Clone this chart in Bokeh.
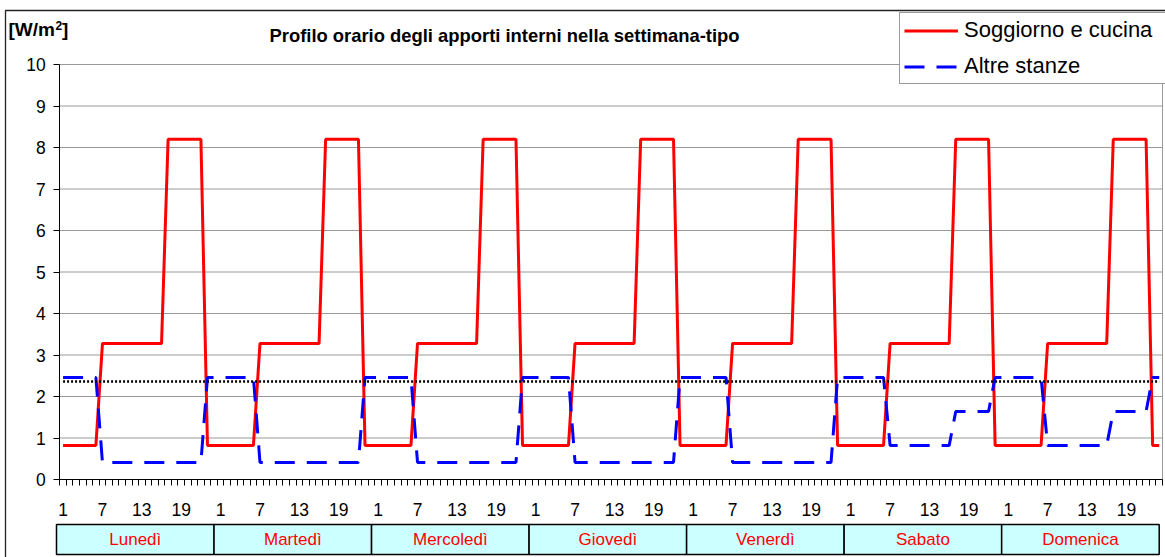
from bokeh.plotting import figure
from bokeh.models import Range1d, FixedTicker, Label, Legend, LegendItem
from bokeh.embed import file_html
from bokeh.resources import INLINE
from bokeh.core.properties import value

# ---------------- data ----------------
days = ["Lunedì", "Martedì", "Mercoledì", "Giovedì", "Venerdì", "Sabato", "Domenica"]
hour_labels = ["1", "7", "13", "19"]
y_ticks = [0, 1, 2, 3, 4, 5, 6, 7, 8, 9, 10]

# hourly values (hour 1..24)
soggiorno_feriale = [0.82, 0.82, 0.82, 0.82, 0.82, 0.82,
                     3.28, 3.28, 3.28, 3.28, 3.28, 3.28, 3.28, 3.28, 3.28, 3.28,
                     8.2, 8.2, 8.2, 8.2, 8.2, 8.2,
                     0.82, 0.82]
altre_feriale = [2.46, 2.46, 2.46, 2.46, 2.46, 2.46,
                 0.41, 0.41, 0.41, 0.41, 0.41, 0.41, 0.41, 0.41, 0.41, 0.41,
                 0.41, 0.41, 0.41, 0.41, 0.41, 0.41,
                 2.46, 2.46]
soggiorno_festivo = [0.82, 0.82, 0.82, 0.82, 0.82, 0.82,
                     3.28, 3.28, 3.28, 3.28, 3.28, 3.28, 3.28, 3.28, 3.28, 3.28,
                     8.2, 8.2, 8.2, 8.2, 8.2, 8.2,
                     0.82, 0.82]
altre_festivo = [2.46, 2.46, 2.46, 2.46, 2.46, 2.46,
                 0.82, 0.82, 0.82, 0.82, 0.82, 0.82, 0.82, 0.82, 0.82, 0.82,
                 1.64, 1.64, 1.64, 1.64, 1.64, 1.64,
                 2.46, 2.46]
valore_medio = 2.36

# ---------------- build week ----------------
week_sog, week_alt = [], []
for d in range(len(days)):
    if d < 5:
        week_sog += soggiorno_feriale
        week_alt += altre_feriale
    else:
        week_sog += soggiorno_festivo
        week_alt += altre_festivo
hours_per_day = len(soggiorno_feriale)
n_hours = len(week_sog)
x = list(range(1, n_hours + 1))

FONT = "Liberation Sans"
W, H = 1165, 557

# plot-area placement in pixels (layout/styling)
PL, PR, PT, PB = 59.3, 1162.0, 64.0, 479.0
x_lo, x_hi = 0.5, n_hours + 0.5
y_lo, y_hi = y_ticks[0], y_ticks[-1]
sx = (PR - PL) / (x_hi - x_lo)
sy = (PB - PT) / (y_hi - y_lo)


def X(px):
    return x_lo + (px - PL) / sx


def Y(py):
    return y_lo + (PB - py) / sy


p = figure(width=W, height=H, x_range=Range1d(X(0), X(W)), y_range=Range1d(Y(H), Y(0)),
           output_backend="svg", toolbar_location=None, min_border=0)
p.background_fill_color = "white"
p.border_fill_color = "white"
p.outline_line_color = None
p.grid.visible = False

# gridlines and plot-area border
grid_y = y_ticks[1:]
p.segment(x0=[x_lo] * len(grid_y), x1=[x_hi] * len(grid_y), y0=grid_y, y1=grid_y,
          line_color="#999999", line_width=1)
p.segment(x0=[x_hi], x1=[x_hi], y0=[y_lo], y1=[y_hi], line_color="#999999", line_width=1)

# outer chart border (top and left)
p.line([X(5), X(5), X(W + 5)], [Y(H + 5), Y(10), Y(10)], line_color="#222222", line_width=1.3)

# y axis
yax = p.yaxis[0]
yax.fixed_location = x_lo
yax.bounds = (y_lo, y_hi)
yax.ticker = FixedTicker(ticks=y_ticks, minor_ticks=[])
yax.major_tick_out = 6
yax.major_tick_in = 0
yax.minor_tick_out = 0
yax.minor_tick_in = 0
yax.axis_line_color = "black"
yax.major_tick_line_color = "black"
yax.major_label_standoff = 8
yax.major_label_text_font = FONT
yax.major_label_text_font_size = "17.5px"
yax.major_label_text_color = "black"

# x axis: labels at hours 1,7,13,19 each day, tick marks between hours
label_pos = []
overrides = {}
for d in range(len(days)):
    for lab in hour_labels:
        pos = d * hours_per_day + int(lab)
        label_pos.append(pos)
        overrides[pos] = lab
bounds = [h + 0.5 for h in range(0, n_hours + 1)]
xax = p.xaxis[0]
xax.fixed_location = y_lo
xax.bounds = (x_lo, x_hi)
xax.ticker = FixedTicker(ticks=label_pos, minor_ticks=bounds)
xax.major_label_overrides = overrides
xax.major_tick_out = 0
xax.major_tick_in = 0
xax.minor_tick_out = 6
xax.minor_tick_in = 0
xax.minor_tick_line_color = "black"
xax.axis_line_color = "black"
xax.major_label_standoff = 17
xax.major_label_text_font = FONT
xax.major_label_text_font_size = "17.5px"
xax.major_label_text_color = "black"

# series
r_sog = p.line(x, week_sog, line_color="#FF0000", line_width=3)
r_alt = p.line(x, week_alt, line_color="#0000FF", line_width=3, line_dash="20 12")
p.line([x[0], x[-1]], [valore_medio, valore_medio], line_color="black", line_width=2.5,
       line_dash="2 2")

# day table below the axis
n = len(days)
lefts = [X(56) + d * hours_per_day for d in range(n)]
rights = [X(56) + (d + 1) * hours_per_day for d in range(n)]
centers = [(a + b) / 2 for a, b in zip(lefts, rights)]
p.quad(left=lefts, right=rights, bottom=[Y(554)] * n, top=[Y(524)] * n,
       fill_color="#CCFFFF", line_color="black", line_width=1.5)
p.text(x=centers, y=[Y(539)] * n, text=days, text_font=value(FONT), text_font_size="17px",
       text_color="#FF0000", text_align="center", text_baseline="middle")

# legend
legend = Legend(items=[LegendItem(label="Soggiorno e cucina", renderers=[r_sog]),
                       LegendItem(label="Altre stanze", renderers=[r_alt])],
                location=(899, H - 84))
legend.label_text_font = FONT
legend.label_text_font_size = "22px"
legend.label_text_color = "black"
legend.border_line_color = "#333333"
legend.border_line_width = 1
legend.background_fill_color = "white"
legend.background_fill_alpha = 1
legend.glyph_width = 54
legend.glyph_height = 21
legend.label_height = 21
legend.label_width = 210
legend.label_standoff = 6
legend.spacing = 10
legend.padding = 4
legend.margin = 0
p.add_layout(legend)

# titles
p.add_layout(Label(x=X(504), y=Y(35), text="Profilo orario degli apporti interni nella settimana-tipo",
                   text_font=FONT, text_font_size="18.4px", text_font_style="bold",
                   text_align="center", text_baseline="middle", text_color="black"))
p.add_layout(Label(x=X(8), y=Y(29), text="[W/m",
                   text_font=FONT, text_font_size="19px", text_font_style="bold",
                   text_align="left", text_baseline="middle", text_color="black"))
p.add_layout(Label(x=X(55), y=Y(25), text="2",
                   text_font=FONT, text_font_size="12px", text_font_style="bold",
                   text_align="left", text_baseline="middle", text_color="black"))
p.add_layout(Label(x=X(61.5), y=Y(29), text="]",
                   text_font=FONT, text_font_size="19px", text_font_style="bold",
                   text_align="left", text_baseline="middle", text_color="black"))

open("out.html", "w").write(file_html(p, INLINE))
